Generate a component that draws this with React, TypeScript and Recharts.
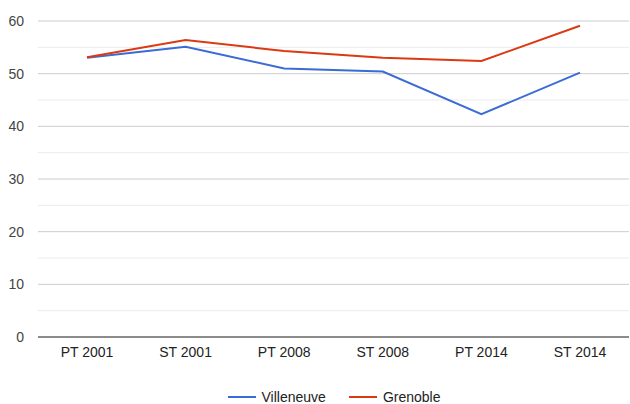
import React from "react";
import { LineChart, Line, XAxis, YAxis, CartesianGrid, ReferenceLine, Legend } from "recharts";

const categories = ["PT 2001", "ST 2001", "PT 2008", "ST 2008", "PT 2014", "ST 2014"];
const villeneuve = [53.0, 55.1, 51.0, 50.4, 42.3, 50.2];
const grenoble = [53.1, 56.4, 54.3, 53.0, 52.4, 59.1];
const majorTicks = [0, 10, 20, 30, 40, 50, 60];
const minorTicks = [5, 15, 25, 35, 45, 55];

const seriesNames = ["Villeneuve", "Grenoble"];
const seriesColors = ["#3a6bd6", "#dc3912"];

const data = categories.map((c, i) => ({
  name: c,
  Villeneuve: villeneuve[i],
  Grenoble: grenoble[i],
}));

const FONT = "Arial, 'Liberation Sans', sans-serif";

const LegendContent = () => (
  <div
    style={{
      display: "flex",
      justifyContent: "center",
      alignItems: "center",
      paddingLeft: 38,
      fontFamily: FONT,
      fontSize: 14,
      lineHeight: "14px",
      color: "#222",
      height: 14,
    }}
  >
    {seriesNames.map((n, i) => (
      <div key={n} style={{ display: "flex", alignItems: "center", marginRight: i === 0 ? 23 : 0 }}>
        <svg width={28} height={4} style={{ marginRight: 6 }}>
          <line x1={0} y1={2} x2={28} y2={2} stroke={seriesColors[i]} strokeWidth={2} />
        </svg>
        <span>{n}</span>
      </div>
    ))}
  </div>
);

export default function App() {
  return (
    <div style={{ position: "absolute", left: 0, top: 0, width: 630, height: 404, background: "#fff" }}>
      <LineChart width={630} height={404} data={data} margin={{ top: 21, right: 1, bottom: 37, left: 0 }}>
        {minorTicks.map((v) => (
          <ReferenceLine key={v} y={v} stroke="#ebebeb" strokeWidth={1} ifOverflow="extendDomain" />
        ))}
        <CartesianGrid vertical={false} stroke="#cccccc" strokeDasharray="" />
        <XAxis
          dataKey="name"
          height={30}
          padding={{ left: 49, right: 49 }}
          tickLine={false}
          axisLine={false}
          tickSize={0}
          tickMargin={10}
          tick={{ fill: "#222", fontSize: 14, fontFamily: FONT }}
          interval={0}
        />
        <YAxis
          width={38}
          domain={[0, 60]}
          ticks={majorTicks}
          tickLine={false}
          axisLine={false}
          tickSize={0}
          tickMargin={14}
          tick={{ fill: "#444", fontSize: 14, fontFamily: FONT }}
        />
        <ReferenceLine y={0} stroke="#333" strokeWidth={1} />
        <Legend
          verticalAlign="middle"
          align="center"
          layout="horizontal"
          content={<LegendContent />}
          wrapperStyle={{ top: 390, left: 0, width: 630, height: 14 }}
        />
        <Line
          type="linear"
          dataKey="Villeneuve"
          stroke={seriesColors[0]}
          strokeWidth={2}
          dot={false}
          activeDot={false}
          isAnimationActive={false}
        />
        <Line
          type="linear"
          dataKey="Grenoble"
          stroke={seriesColors[1]}
          strokeWidth={2}
          dot={false}
          activeDot={false}
          isAnimationActive={false}
        />
      </LineChart>
    </div>
  );
}
